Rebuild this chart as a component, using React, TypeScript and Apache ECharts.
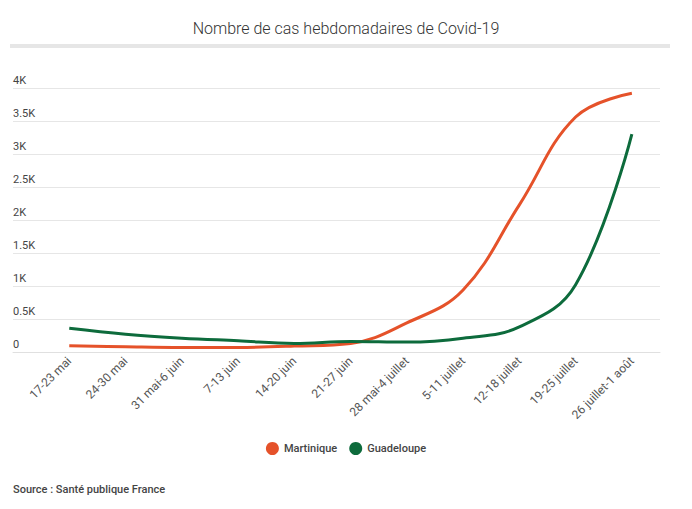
import React, { useEffect, useRef } from "react";
import * as echarts from "echarts";

const categories = [
  "17-23 mai",
  "24-30 mai",
  "31 mai-6 juin",
  "7-13 juin",
  "14-20 juin",
  "21-27 juin",
  "28 mai-4 juillet",
  "5-11 juillet",
  "12-18 juillet",
  "19-25 juillet",
  "26 juillet-1 août",
];
const martinique = [95, 80, 70, 70, 90, 130, 440, 940, 2230, 3560, 3920];
const guadeloupe = [360, 270, 210, 170, 130, 160, 150, 210, 380, 1020, 3300];
const yTicks = [0, 500, 1000, 1500, 2000, 2500, 3000, 3500, 4000];

export default function App() {
  const ref = useRef<HTMLDivElement>(null);
  useEffect(() => {
    const chart = echarts.init(ref.current!, null, { renderer: "svg" });
    const font = "Roboto, sans-serif";
    chart.setOption({
      animation: false,
      backgroundColor: "#ffffff",
      textStyle: { fontFamily: font },
      title: {
        text: "Nombre de cas hebdomadaires de Covid-19",
        left: "center",
        top: 15,
        textStyle: { fontSize: 16, fontWeight: 300, color: "#333333", fontFamily: font },
      },
      graphic: [
        { type: "rect", shape: { x: 10, y: 44, width: 660, height: 4 }, style: { fill: "#e6e6e6" } },
        {
          type: "text",
          left: 13,
          top: 484,
          style: { text: "Source : Santé publique France", fontSize: 11, fill: "#444444", fontFamily: font, fontWeight: 500 },
        },
      ],
      legend: {
        top: 437,
        left: "center",
        icon: "circle",
        itemWidth: 13,
        itemHeight: 13,
        itemGap: 12,
        textStyle: { fontSize: 11, color: "#444444", fontFamily: font, fontWeight: 500 },
        data: ["Martinique", "Guadeloupe"],
      },
      grid: { left: 13, right: 32, top: 88, bottom: 157, containLabel: false },
      xAxis: {
        type: "value",
        min: -1,
        max: 10.5,
        interval: 1,
        axisLine: { show: true, lineStyle: { color: "#e0e0e0", width: 1 } },
        axisTick: { show: false },
        splitLine: { show: false },
        axisLabel: {
          rotate: 45,
          fontSize: 12,
          color: "#555555",
          margin: 7,
          showMaxLabel: false,
          formatter: (v: number) => (v >= 0 && Number.isInteger(v) && categories[v] ? categories[v] : ""),
        },
      },
      yAxis: {
        type: "value",
        min: yTicks[0],
        max: yTicks[yTicks.length - 1],
        interval: 500,
        axisLine: { show: false },
        axisTick: { show: false },
        splitLine: { lineStyle: { color: "#e6e6e6", width: 1 } },
        axisLabel: {
          inside: true,
          margin: 0,
          verticalAlign: "bottom",
          padding: [0, 0, 2, 0],
          fontSize: 11,
          color: "#444444",
          formatter: (v: number) => (v === 0 ? "0" : `${v / 1000}K`),
        },
      },
      series: [
        {
          name: "Martinique",
          type: "line",
          smooth: 0.4,
          showSymbol: false,
          symbol: "circle",
          color: "#e5522a",
          lineStyle: { width: 3, color: "#e5522a" },
          data: martinique.map((v, i) => [i, v]),
        },
        {
          name: "Guadeloupe",
          type: "line",
          smooth: 0.4,
          showSymbol: false,
          symbol: "circle",
          color: "#0d6b3c",
          lineStyle: { width: 3, color: "#0d6b3c" },
          data: guadeloupe.map((v, i) => [i, v]),
        },
      ],
    });
    return () => chart.dispose();
  }, []);
  return <div ref={ref} style={{ width: 692, height: 509, margin: -8 }} />;
}
